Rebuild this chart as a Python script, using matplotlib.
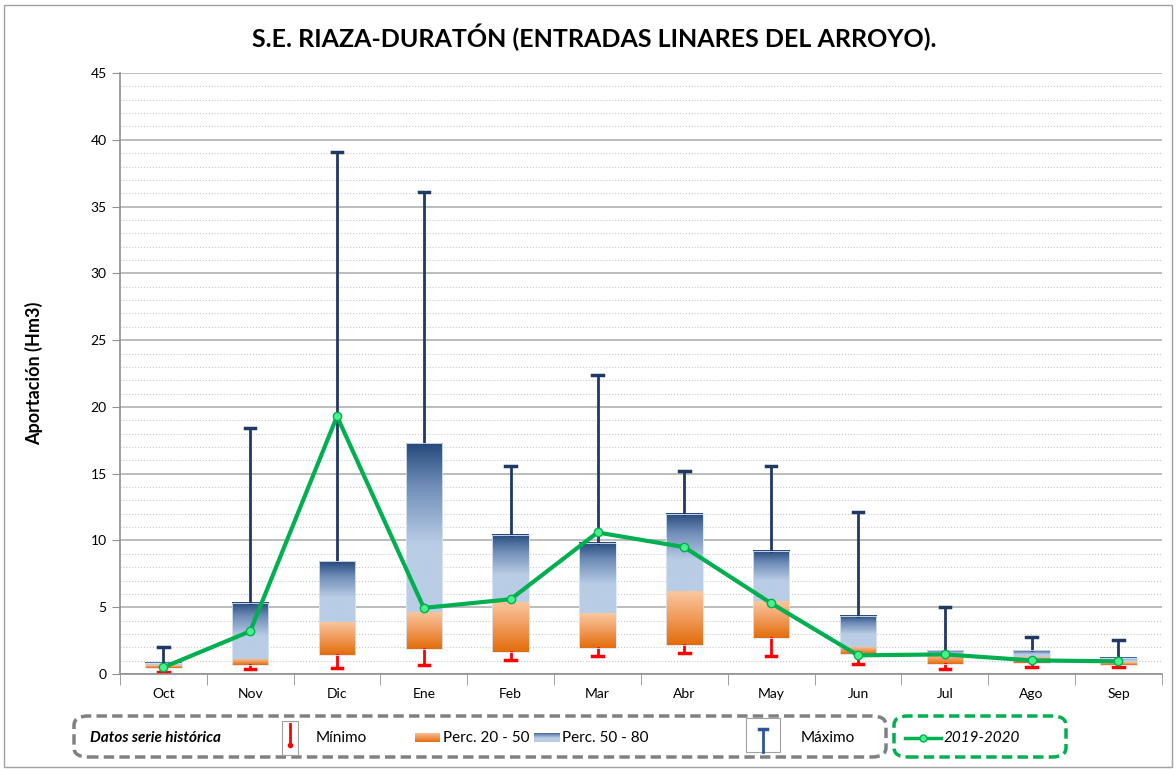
import numpy as np
import matplotlib
matplotlib.use("Agg")
import matplotlib.pyplot as plt
from matplotlib.colors import LinearSegmentedColormap
from matplotlib.patches import FancyBboxPatch, Rectangle
from matplotlib.lines import Line2D

plt.rcParams["font.family"] = ["Lato", "DejaVu Sans"]

months = ["Oct", "Nov", "Dic", "Ene", "Feb", "Mar", "Abr", "May", "Jun", "Jul", "Ago", "Sep"]
minimo = [0.17, 0.35, 0.43, 0.67, 1.05, 1.35, 1.55, 1.35, 0.72, 0.37, 0.55, 0.5]
perc20 = [0.45, 0.65, 1.42, 1.87, 1.62, 1.97, 2.17, 2.7, 1.47, 0.72, 0.8, 0.7]
perc50 = [0.65, 1.1, 3.92, 4.67, 5.37, 4.54, 6.19, 5.44, 2.0, 1.42, 1.25, 0.92]
perc80 = [0.85, 5.35, 8.46, 17.3, 10.4, 9.8, 12.0, 9.2, 4.37, 1.77, 1.77, 1.22]
maximo = [2.0, 18.4, 39.1, 36.1, 15.6, 22.4, 15.2, 15.6, 12.1, 5.04, 2.77, 2.52]
actual = [0.5, 3.2, 19.3, 4.95, 5.6, 10.6, 9.5, 5.3, 1.4, 1.47, 1.02, 0.95]

NAVY = "#1F3864"
GREEN = "#00B050"

orange_cmap = LinearSegmentedColormap.from_list("orng", ["#E36C09", "#F09A5A", "#FAC8A0"])
blue_cmap = LinearSegmentedColormap.from_list(
    "blu", [(0.0, "#B9CDE5"), (0.4, "#B9CDE5"), (0.75, "#6F8DB8"), (1.0, "#254A7C")])
grad = np.linspace(0, 1, 256).reshape(-1, 1)

fig = plt.figure(figsize=(11.76, 7.69), dpi=100)
fig.patches.append(Rectangle((0.003, 0.003), 0.994, 0.99, transform=fig.transFigure,
                             fill=False, edgecolor="#A0A0A0", linewidth=1))
ax = fig.add_axes([0.102, 0.1235, 0.886, 0.7815])

x = np.arange(len(months))
w = 0.42
for i in x:
    # orange part (p20 - p50)
    ax.imshow(grad, cmap=orange_cmap, origin="lower", aspect="auto", zorder=2,
              extent=[i - w / 2, i + w / 2, perc20[i], perc50[i]])
    # blue part (p50 - p80)
    ax.imshow(grad, cmap=blue_cmap, origin="lower", aspect="auto", zorder=2,
              extent=[i - w / 2, i + w / 2, perc50[i], perc80[i]])
    ax.add_patch(Rectangle((i - w / 2, perc20[i]), w, perc80[i] - perc20[i],
                           fill=False, edgecolor="#DCE6F2", linewidth=0.6, zorder=3))
    # whiskers
    ax.plot([i, i], [perc80[i], maximo[i]], color=NAVY, linewidth=2, zorder=2)
    ax.plot([i - 0.06, i + 0.06], [maximo[i], maximo[i]], color=NAVY, linewidth=2.5, zorder=2)
    ax.plot([i, i], [perc20[i], minimo[i]], color="red", linewidth=2, zorder=2)
    ax.plot([i - 0.06, i + 0.06], [minimo[i], minimo[i]], color="red", linewidth=2.5, zorder=2)

ax.plot(x, actual, color=GREEN, linewidth=3, marker="o", markersize=6,
        markerfacecolor="#4CF08A", markeredgecolor="#00B050", markeredgewidth=1, zorder=5)

ax.set_xlim(-0.5, len(months) - 0.5)
ax.set_ylim(0, 45)
ax.set_yticks(np.arange(0, 46, 5))
ax.set_yticks(np.arange(0, 46, 1), minor=True)
ax.yaxis.grid(True, which="major", color="#B0B0B0", linewidth=1.2, zorder=0)
ax.yaxis.grid(True, which="minor", color="#C8C8C8", linewidth=0.8, linestyle=":", zorder=0)
ax.set_axisbelow(True)

ax.set_xticks(x)
ax.set_xticklabels(months, fontsize=10)
ax.set_xticks(np.arange(-0.5, len(months), 1), minor=True)
ax.tick_params(axis="x", which="major", length=0, pad=10)
ax.tick_params(axis="x", which="minor", length=8, color="#909090", direction="out")
ax.tick_params(axis="y", which="major", length=6, color="#909090", labelsize=10)
ax.tick_params(axis="y", which="minor", length=0)

for s in ["top", "right"]:
    ax.spines[s].set_visible(False)
for s in ["left", "bottom"]:
    ax.spines[s].set_color("#909090")
    ax.spines[s].set_linewidth(1.2)

ax.set_ylabel("Aportación (Hm3)", fontsize=13, fontweight="bold", labelpad=34)
fig.text(0.505, 0.951, "S.E. RIAZA-DURATÓN (ENTRADAS LINARES DEL ARROYO).",
         ha="center", va="center", fontsize=18, fontweight="bold")

# legend boxes
def fx(px):
    return px / 1176


def fy(py):
    return 1 - py / 769


fig.patches.append(FancyBboxPatch((fx(74), fy(757)), fx(886) - fx(74), fy(716) - fy(757),
                                  boxstyle="round,pad=0,rounding_size=0.012",
                                  transform=fig.transFigure, fill=False,
                                  edgecolor="#808080", linewidth=2.5, linestyle=(0, (3, 1.5))))
fig.patches.append(FancyBboxPatch((fx(894), fy(757)), fx(1066) - fx(894), fy(716) - fy(757),
                                  boxstyle="round,pad=0,rounding_size=0.012",
                                  transform=fig.transFigure, fill=False,
                                  edgecolor=GREEN, linewidth=2.5, linestyle=(0, (3, 1.5))))
ly = fy(738)
fig.text(fx(90), ly, "Datos serie histórica", fontsize=11, fontweight="bold",
         fontstyle="italic", va="center")

# Minimo icon
fig.patches.append(Rectangle((fx(282), fy(755)), fx(16), fy(721) - fy(755),
                             transform=fig.transFigure, fill=False, edgecolor="#A0A0A0", linewidth=0.8))
fig.add_artist(Line2D([fx(290), fx(290)], [fy(724), fy(745)], color="red", linewidth=2,
                      transform=fig.transFigure))
fig.add_artist(Line2D([fx(290)], [fy(745)], color="red", marker="o", markersize=3,
                      transform=fig.transFigure))
fig.text(fx(316), ly, "Mínimo", fontsize=11, va="center")

# gradient swatches
sw1 = fig.add_axes([fx(415), fy(742), fx(25), fy(733) - fy(742)])
sw1.imshow(grad, cmap=orange_cmap, origin="lower", aspect="auto")
sw1.axis("off")
fig.text(fx(443), ly, "Perc. 20 - 50", fontsize=11, va="center")
sw2 = fig.add_axes([fx(534), fy(742), fx(26), fy(733) - fy(742)])
sw2.imshow(grad, cmap=blue_cmap, origin="lower", aspect="auto")
sw2.axis("off")
fig.text(fx(562), ly, "Perc. 50 - 80", fontsize=11, va="center")

# Maximo icon
fig.patches.append(Rectangle((fx(746), fy(752)), fx(34), fy(718) - fy(752),
                             transform=fig.transFigure, fill=False, edgecolor="#A0A0A0", linewidth=0.8))
fig.add_artist(Line2D([fx(763), fx(763)], [fy(729), fy(752)], color="#2E5597", linewidth=2,
                      transform=fig.transFigure))
fig.add_artist(Line2D([fx(759), fx(767)], [fy(729), fy(729)], color="#2E5597", linewidth=2.5,
                      transform=fig.transFigure))
fig.text(fx(801), ly, "Máximo", fontsize=11, va="center")

# 2019-2020
fig.add_artist(Line2D([fx(905), fx(941)], [ly, ly], color=GREEN, linewidth=2.5,
                      transform=fig.transFigure))
fig.add_artist(Line2D([fx(923)], [ly], color=GREEN, marker="o", markersize=5,
                      markerfacecolor="#4CF08A", transform=fig.transFigure))
fig.text(fx(944), ly, "2019-2020", fontsize=11, fontstyle="italic", va="center")

fig.savefig("out.png", dpi=100)
